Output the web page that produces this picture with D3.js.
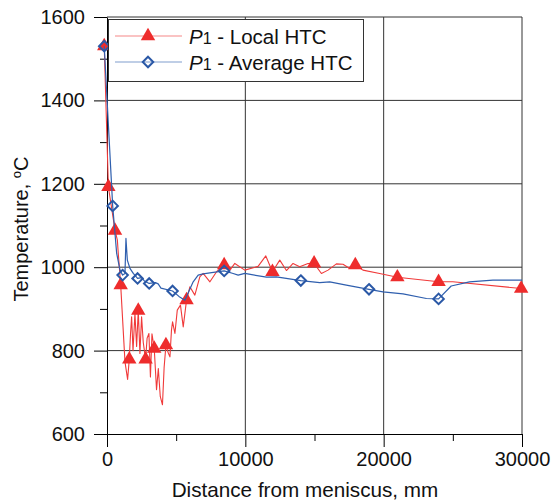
<!DOCTYPE html>
<html>
<head>
<meta charset="utf-8">
<script src="https://cdn.jsdelivr.net/npm/d3@7"></script>
<style>
  html, body { margin: 0; padding: 0; background: #fff; }
  svg { display: block; font-family: "Liberation Sans", Arial, sans-serif; }
</style>
</head>
<body>
<svg id="chart" width="552" height="502"></svg>
<script>
// ---- data ----
const xTicks = [0, 10000, 20000, 30000];
const xMinorTicks = [5000, 15000, 25000];
const yTicks = [600, 800, 1000, 1200, 1400, 1600];
const yMinorTicks = [700, 900, 1100, 1300, 1500];

// P1 - Local HTC : full line (distance mm, temperature C)
const localX = [-200, 100, 580, 750, 800, 990, 1300, 1490, 1610, 1700, 1780, 1880, 2020, 2140, 2260, 2380, 2500, 2620, 2790, 2900, 3030, 3140, 3250, 3415, 3580, 3710, 3850, 4010, 4130, 4260, 4430, 4550, 4660, 4740, 4910, 5080, 5310, 5510, 5750, 5990, 6350, 6710, 6950, 7440, 7920, 8470, 8880, 9240, 9960, 10920, 11480, 11960, 12490, 12970, 13450, 13930, 14530, 14970, 15500, 15980, 16580, 17060, 17550, 17950, 18500, 19710, 20990, 23970, 25000, 29940];
const localT = [1530, 1193, 1088, 1065, 1040, 957, 773, 731, 779, 840, 881, 800, 889, 810, 896, 793, 881, 820, 779, 830, 841, 737, 840, 805, 706, 757, 690, 670, 760, 813, 794, 785, 849, 869, 841, 897, 909, 857, 921, 953, 933, 977, 985, 965, 989, 1005, 993, 1009, 993, 1002, 1027, 989, 1017, 992, 1009, 1001, 1009, 1009, 985, 993, 1008, 1007, 997, 1005, 993, 985, 976, 965, 965, 949];
// P1 - Local HTC : marker points
const localMarkX = [-200, 100, 580, 990, 1610, 2260, 2790, 3415, 4260, 5750, 8470, 11960, 14970, 17950, 20990, 23970, 29940];
const localMarkT = [1530, 1193, 1088, 957, 779, 896, 779, 805, 813, 921, 1005, 989, 1009, 1005, 976, 965, 949];

// P1 - Average HTC : full line
const avgX = [-200, 410, 700, 940, 1130, 1300, 1370, 1470, 1660, 1900, 2210, 2500, 2700, 3050, 3500, 3700, 3900, 4740, 5200, 5630, 6230, 6590, 6950, 7560, 8470, 9120, 9480, 9960, 11530, 12250, 14010, 15380, 16100, 17300, 18940, 19950, 21400, 23090, 23970, 24880, 26200, 27900, 30000];
const avgT = [1530, 1147, 1033, 993, 981, 985, 1069, 1017, 997, 985, 973, 975, 967, 961, 963, 960, 950, 943, 930, 921, 965, 981, 984, 987, 991, 985, 981, 985, 976, 977, 968, 963, 965, 957, 947, 941, 936, 925, 924, 955, 965, 969, 969];
// P1 - Average HTC : marker points
const avgMarkX = [-200, 410, 1130, 2210, 3050, 4740, 8470, 14010, 18940, 23970];
const avgMarkT = [1530, 1147, 981, 973, 961, 943, 991, 968, 947, 924];

const seriesNames = ["Local HTC", "Average HTC"];

// ---- layout ----
const svg = d3.select("#chart");
const x = d3.scaleLinear().domain([0, 30000]).range([107, 522]);
const y = d3.scaleLinear().domain([600, 1600]).range([434, 17]);
const redLine = "#f03a3a", redFill = "#ee2c2c";
const blueLine = "#2f5fae", blueMark = "#2a58a6";
const fontSize = 20;

// grid lines
svg.append("g").selectAll("line").data(yTicks.filter(d => d > 600)).join("line")
  .attr("x1", x(0)).attr("x2", x(30000))
  .attr("y1", d => y(d)).attr("y2", d => y(d))
  .attr("stroke", "#333").attr("stroke-width", 1);
svg.append("g").selectAll("line").data(xTicks.filter(d => d > 0)).join("line")
  .attr("x1", d => x(d)).attr("x2", d => x(d))
  .attr("y1", y(600)).attr("y2", y(1600))
  .attr("stroke", "#333").attr("stroke-width", 1);

// axes
function styleAxis(g) {
  g.select(".domain").attr("stroke", "#000");
  g.selectAll(".tick line").attr("stroke", "#000");
  g.selectAll("text").attr("fill", "#111").style("font-size", fontSize + "px")
    .style("font-family", "'Liberation Sans', Arial, sans-serif");
}
svg.append("g").attr("transform", `translate(0,${y(600)})`)
  .call(d3.axisBottom(x).tickValues(xTicks).tickSize(13).tickPadding(5).tickSizeOuter(0).tickFormat(d3.format("d")))
  .call(styleAxis);
svg.append("g").attr("transform", `translate(0,${y(600)})`)
  .call(d3.axisBottom(x).tickValues(xMinorTicks).tickSize(7).tickFormat("").tickSizeOuter(0))
  .call(g => g.select(".domain").remove())
  .call(styleAxis);
svg.append("g").attr("transform", `translate(${x(0)},0)`)
  .call(d3.axisLeft(y).tickValues(yTicks).tickSize(13).tickPadding(9).tickSizeOuter(0).tickFormat(d3.format("d")))
  .call(styleAxis);
svg.append("g").attr("transform", `translate(${x(0)},0)`)
  .call(d3.axisLeft(y).tickValues(yMinorTicks).tickSize(7).tickFormat("").tickSizeOuter(0))
  .call(g => g.select(".domain").remove())
  .call(styleAxis);

// axis titles
svg.append("text").attr("x", 305).attr("y", 497).attr("text-anchor", "middle")
  .style("font-size", "20.7px").attr("fill", "#111").text("Distance from meniscus, mm");
const yt = svg.append("text").attr("transform", "translate(28,229) rotate(-90)")
  .attr("text-anchor", "middle").style("font-size", fontSize + "px").attr("fill", "#111");
yt.append("tspan").text("Temperature, ");
yt.append("tspan").style("font-size", "13px").attr("dy", -7).text("o");
yt.append("tspan").attr("dy", 7).text("C");

// series
const lineGen = d3.line().x(d => x(d[0])).y(d => y(d[1]));
const localPts = localX.map((v, i) => [v, localT[i]]);
const avgPts = avgX.map((v, i) => [v, avgT[i]]);
const tri = d3.symbol().type(d3.symbolTriangle).size(90);
const dia = d3.symbol().type(d3.symbolDiamond2 || d3.symbolDiamond).size(70);

svg.append("path").datum(localPts).attr("d", lineGen)
  .attr("fill", "none").attr("stroke", redLine).attr("stroke-width", 1.1).attr("stroke-linejoin", "round");
svg.append("g").selectAll("path").data(localMarkX.map((v, i) => [v, localMarkT[i]])).join("path")
  .attr("d", tri).attr("transform", d => `translate(${x(d[0])},${y(d[1])})`)
  .attr("fill", redFill).attr("stroke", "none");

svg.append("path").datum(avgPts).attr("d", lineGen)
  .attr("fill", "none").attr("stroke", blueLine).attr("stroke-width", 1.2).attr("stroke-linejoin", "round");
svg.append("g").selectAll("path").data(avgMarkX.map((v, i) => [v, avgMarkT[i]])).join("path")
  .attr("d", dia).attr("transform", d => `translate(${x(d[0])},${y(d[1])})`)
  .attr("fill", "none").attr("stroke", blueMark).attr("stroke-width", 2);

// legend
const lg = svg.append("g");
lg.append("rect").attr("x", 108.5).attr("y", 19.5).attr("width", 255).attr("height", 62)
  .attr("fill", "#fff").attr("stroke", "#333").attr("stroke-width", 1);
const legendRows = [
  { name: seriesNames[0], color: redLine, sym: tri, fill: redFill, stroke: "none", sw: 0, cy: 36 },
  { name: seriesNames[1], color: blueLine, sym: dia, fill: "none", stroke: blueMark, sw: 2, cy: 62 }
];
legendRows.forEach(r => {
  lg.append("line").attr("x1", 115).attr("x2", 182).attr("y1", r.cy).attr("y2", r.cy)
    .attr("stroke", r.color).attr("stroke-width", 1.2).attr("opacity", 0.6);
  lg.append("path").attr("d", r.sym).attr("transform", `translate(148,${r.cy})`)
    .attr("fill", r.fill).attr("stroke", r.stroke).attr("stroke-width", r.sw);
  const t = lg.append("text").attr("x", 189).attr("y", r.cy + 7.5)
    .style("font-size", "20.5px").attr("fill", "#111");
  t.append("tspan").style("font-style", "italic").text("P");
  t.append("tspan").style("font-size", "16px").text("1");
  t.append("tspan").text(" - " + r.name);
});
</script>
</body>
</html>
